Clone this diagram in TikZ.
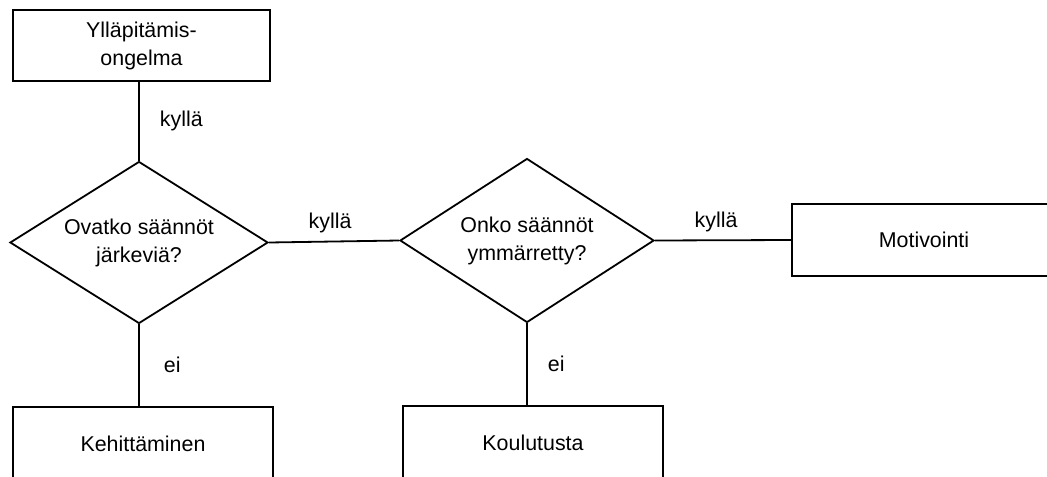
\documentclass[tikz,border=0pt]{standalone}
\usepackage{fontspec}
\setmainfont{Liberation Sans}
\usetikzlibrary{shapes.geometric}
\begin{document}
\begin{tikzpicture}[x=0.5pt,y=-0.5pt,
  txt/.style={font=\fontsize{10.7}{14}\selectfont},
  box/.style={txt, draw, line width=0.9pt, rectangle, inner sep=0pt, align=center},
  dec/.style={txt, draw, line width=0.9pt, diamond, aspect=1.6, inner sep=0pt, align=center},
  conn/.style={line width=0.9pt},
  lab/.style={txt, inner sep=0pt}]
\useasboundingbox (0,0) rectangle (1047,476);
\clip (0,0) rectangle (1047,476);
\node[box, minimum width=128.5pt, minimum height=35.5pt] (top) at (141.5,45.5) {Ylläpitämis-\\ongelma};
\node[dec, minimum width=129pt, minimum height=81pt] (d1) at (139,242.5) {Ovatko säännöt\\järkeviä?};
\node[dec, minimum width=127pt, minimum height=82pt] (d2) at (527,240.5) {Onko säännöt\\ymmärretty?};
\node[box, minimum width=132pt, minimum height=36pt] (motiv) at (924,240) {Motivointi};
\node[box, minimum width=130pt, minimum height=36.5pt] (keh) at (143,443.5) {Kehittäminen};
\node[box, minimum width=130pt, minimum height=36.5pt] (koul) at (533,442.5) {Koulutusta};
\draw[conn] (d1.north) -- node[lab, anchor=west, xshift=10pt] {kyllä} (d1.north |- top.south);
\draw[conn] (d1.east) -- node[lab, yshift=9.5pt, xshift=-2pt] {kyllä} (d2.west);
\draw[conn] (d2.east) -- node[lab, yshift=9pt, xshift=-3.5pt] {kyllä} (motiv.west);
\draw[conn] (d1.south) -- node[lab, anchor=west, xshift=12pt] {ei} (d1.south |- keh.north);
\draw[conn] (d2.south) -- node[lab, anchor=west, xshift=10pt] {ei} (d2.south |- koul.north);
\end{tikzpicture}
\end{document}
